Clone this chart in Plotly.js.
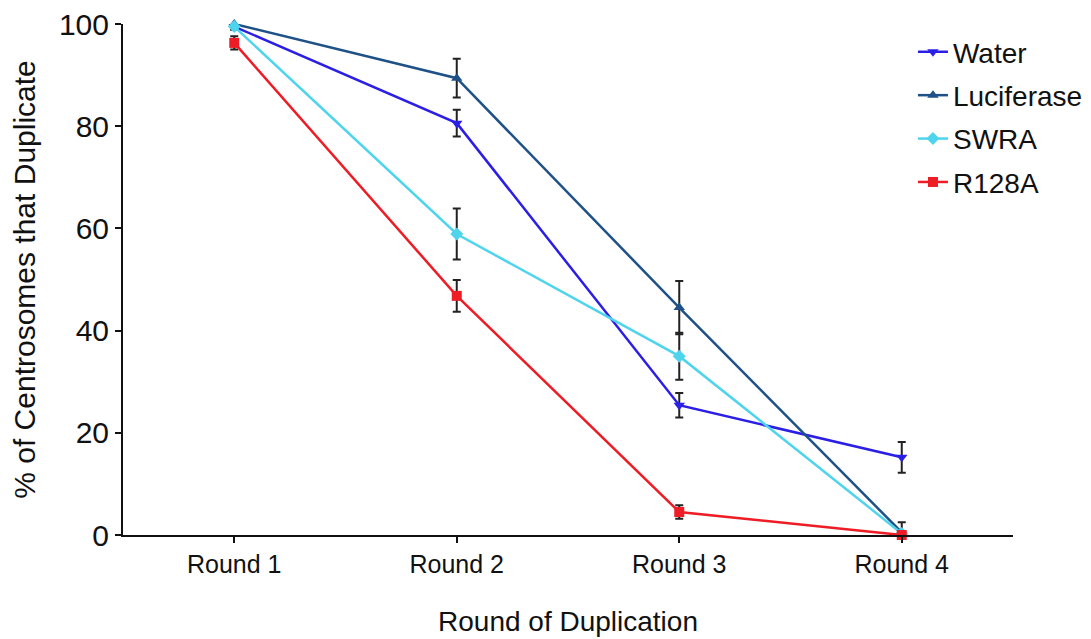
<!DOCTYPE html>
<html>
<head>
<meta charset="utf-8">
<script src="https://cdn.plot.ly/plotly-3.0.1.min.js"></script>
<style>html,body{margin:0;padding:0;background:#fff;}#chart{width:1091px;height:639px;}</style>
</head>
<body>
<div id="chart"></div>
<script>
const rounds = ["Round 1", "Round 2", "Round 3", "Round 4"];

const waterVals = [99.5, 80.6, 25.4, 15.2];
const waterErr = [0.6, 2.6, 2.4, 3.0];

const luciferaseVals = [100, 89.4, 44.5, 0.5];
const luciferaseErr = [0.4, 3.8, 5.2, 2.0];

const swraVals = [99.5, 58.9, 35.0, 0.3];
const swraErr = [0.6, 5.0, 4.6, 0.5];

const r128aVals = [96.3, 46.8, 4.5, 0];
const r128aErr = [1.3, 3.1, 1.3, 0.3];

const seriesNames = ["Water", "Luciferase", "SWRA", "R128A"];
const seriesColors = ["#2b1fe6", "#1f5189", "#4fd4ee", "#ee1c24"];
const seriesSymbols = ["triangle-down", "triangle-up", "diamond", "square"];
const seriesVals = [waterVals, luciferaseVals, swraVals, r128aVals];
const seriesErr = [waterErr, luciferaseErr, swraErr, r128aErr];

const traces = seriesNames.map((name, i) => ({
  type: "scatter",
  mode: "lines+markers",
  name: name,
  legendgroup: name,
  x: rounds,
  y: seriesVals[i],
  cliponaxis: false,
  line: {color: seriesColors[i], width: 2.5},
  marker: {color: seriesColors[i], symbol: seriesSymbols[i], size: 10},
  error_y: {type: "data", array: seriesErr[i], visible: true, color: "#222", thickness: 2, width: 4}
}));

const layout = {
  width: 1091, height: 639,
  paper_bgcolor: "#fff", plot_bgcolor: "#fff",
  font: {family: "Liberation Sans, Arial, sans-serif", color: "#111"},
  margin: {l: 123, r: 78, t: 24, b: 104, autoexpand: false},
  showlegend: true,
  legend: {x: 0.8876, y: 0.994, xanchor: "left", yanchor: "top", font: {size: 28, color: "#111"},
           tracegroupgap: 4, bgcolor: "rgba(0,0,0,0)"},
  xaxis: {
    type: "category", range: [-0.5, 3.5],
    showline: true, linecolor: "#111", linewidth: 2,
    ticks: "outside", ticklen: 6, tickwidth: 2, tickcolor: "#111",
    showgrid: false, zeroline: false,
    tickfont: {size: 25, color: "#111"},
    title: {text: "Round of Duplication", font: {size: 28, color: "#111"}, standoff: 34}
  },
  yaxis: {
    range: [0, 100], tickvals: [0, 20, 40, 60, 80, 100],
    showline: true, linecolor: "#111", linewidth: 2,
    ticks: "outside", ticklen: 6, tickwidth: 2, tickcolor: "#111",
    showgrid: false, zeroline: false,
    tickfont: {size: 30, color: "#111"},
    title: {text: "% of Centrosomes that Duplicate", font: {size: 30, color: "#111"}, standoff: 14}
  }
};

Plotly.newPlot("chart", traces, layout, {displayModeBar: false, staticPlot: true});
</script>
</body>
</html>
